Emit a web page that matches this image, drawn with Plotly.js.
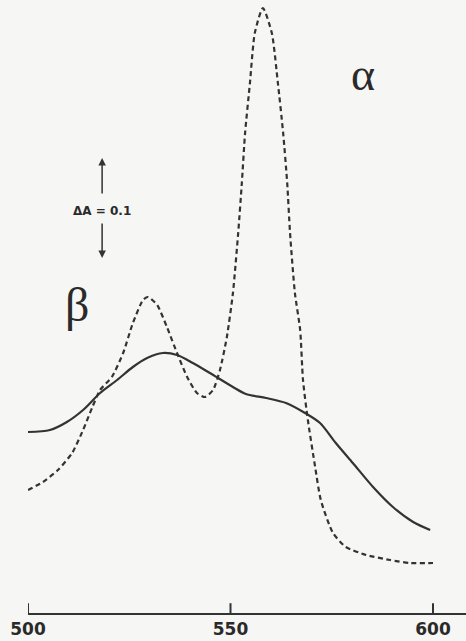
<!DOCTYPE html>
<html>
<head>
<meta charset="utf-8">
<script src="https://cdn.plot.ly/plotly-3.0.1.min.js"></script>
<style>
  html, body { margin: 0; padding: 0; background: #f6f6f4; }
  #chart { width: 466px; height: 641px; }
</style>
</head>
<body>
<div id="chart"></div>
<script>
// Difference spectrum (dashed) and broad band (solid), wavelength in nm,
// absorbance in relative units (the scale bar marks dA = 0.1).
const dashedWavelength = [500, 503.7, 507.4, 510.9, 513.6, 515.8, 517.8, 520.7, 523.5, 525.9,
  528.4, 529.6, 531.9, 534.3, 536.8, 539.3, 541.7, 543.7, 545.7, 547.4, 549.1, 550.6, 551.9,
  552.8, 553.6, 554.8, 556.0, 558.0, 560.2, 561.7, 563.0, 564.0, 564.7, 565.9, 567.2, 567.9,
  569.1, 570.9, 572.3, 575.3, 578.5, 583.5, 589.4, 594.3, 600];
const dashedAbsorbance = [0.123, 0.131, 0.143, 0.160, 0.183, 0.205, 0.223, 0.236, 0.260, 0.290,
  0.313, 0.316, 0.308, 0.286, 0.260, 0.236, 0.220, 0.216, 0.223, 0.243, 0.276, 0.320, 0.380,
  0.430, 0.480, 0.530, 0.580, 0.605, 0.580, 0.530, 0.480, 0.430, 0.380, 0.320, 0.283, 0.233,
  0.193, 0.146, 0.113, 0.080, 0.066, 0.058, 0.053, 0.050, 0.050];

const solidWavelength = [500, 505.4, 509.6, 513.6, 517.8, 522.0, 525.9, 529.4, 533.3, 536.8,
  540.7, 544.9, 550.6, 553.8, 558.8, 563.7, 568.4, 572.1, 576.0, 580.2, 585.2, 590.1, 595.1, 599.3];
const solidAbsorbance = [0.181, 0.183, 0.191, 0.203, 0.220, 0.233, 0.246, 0.255, 0.260, 0.258,
  0.250, 0.240, 0.226, 0.219, 0.215, 0.210, 0.200, 0.190, 0.170, 0.150, 0.126, 0.106, 0.091, 0.083];

const tickValues = [500, 550, 600];
const tickLabels = ['500', '550', '600'];

const ink = '#333333';

const traces = [
  {
    x: solidWavelength, y: solidAbsorbance, type: 'scatter', mode: 'lines',
    line: { color: ink, width: 2.2, shape: 'spline', smoothing: 0.8 },
    hoverinfo: 'skip'
  },
  {
    x: dashedWavelength, y: dashedAbsorbance, type: 'scatter', mode: 'lines',
    line: { color: ink, width: 2.2, dash: '5px,3.5px', shape: 'spline', smoothing: 0.6 },
    hoverinfo: 'skip'
  }
];

// short upward tick marks standing on the wavelength axis
const tickShapes = tickValues.map(v => ({
  type: 'line', xref: 'x', yref: 'paper', x0: v, x1: v, y0: 0, y1: 0.016,
  line: { color: ink, width: 2 }
}));

const layout = {
  width: 466, height: 641,
  margin: { l: 28, r: 0, t: 0, b: 28, pad: 0 },
  paper_bgcolor: '#f6f6f4',
  plot_bgcolor: '#f6f6f4',
  showlegend: false,
  xaxis: {
    range: [500, 500 + 438 / 4.05],
    showgrid: false, zeroline: false,
    showline: true, linecolor: ink, linewidth: 2,
    ticks: '',
    tickvals: tickValues, ticktext: tickLabels,
    tickfont: { family: 'DejaVu Sans', size: 17, weight: 'bold', color: '#2a2a2a' },
    fixedrange: true
  },
  yaxis: {
    range: [0, 0.613],
    visible: false, showgrid: false, zeroline: false, fixedrange: true
  },
  shapes: tickShapes,
  annotations: [
    { x: 582.7, y: 0.539, xref: 'x', yref: 'y', text: 'α', showarrow: false,
      font: { family: 'Liberation Serif', size: 46, color: '#2a2a2a' } },
    { x: 512.1, y: 0.309, xref: 'x', yref: 'y', text: 'β', showarrow: false,
      font: { family: 'Liberation Serif', size: 48, color: '#2a2a2a' } },
    { x: 518.3, y: 0.402, xref: 'x', yref: 'y', text: '<b>ΔA = 0.1</b>', showarrow: false,
      font: { family: 'DejaVu Sans', size: 12, color: '#2a2a2a' } },
    // scale-bar arrows
    { x: 518.3, y: 0.455, xref: 'x', yref: 'y', text: '', showarrow: true,
      ax: 0, ay: 37, arrowhead: 2, arrowsize: 1, arrowwidth: 1.5, arrowcolor: ink },
    { x: 518.3, y: 0.355, xref: 'x', yref: 'y', text: '', showarrow: true,
      ax: 0, ay: -36, arrowhead: 2, arrowsize: 1, arrowwidth: 1.5, arrowcolor: ink }
  ]
};

Plotly.newPlot('chart', traces, layout, { staticPlot: true, displayModeBar: false });
</script>
</body>
</html>
